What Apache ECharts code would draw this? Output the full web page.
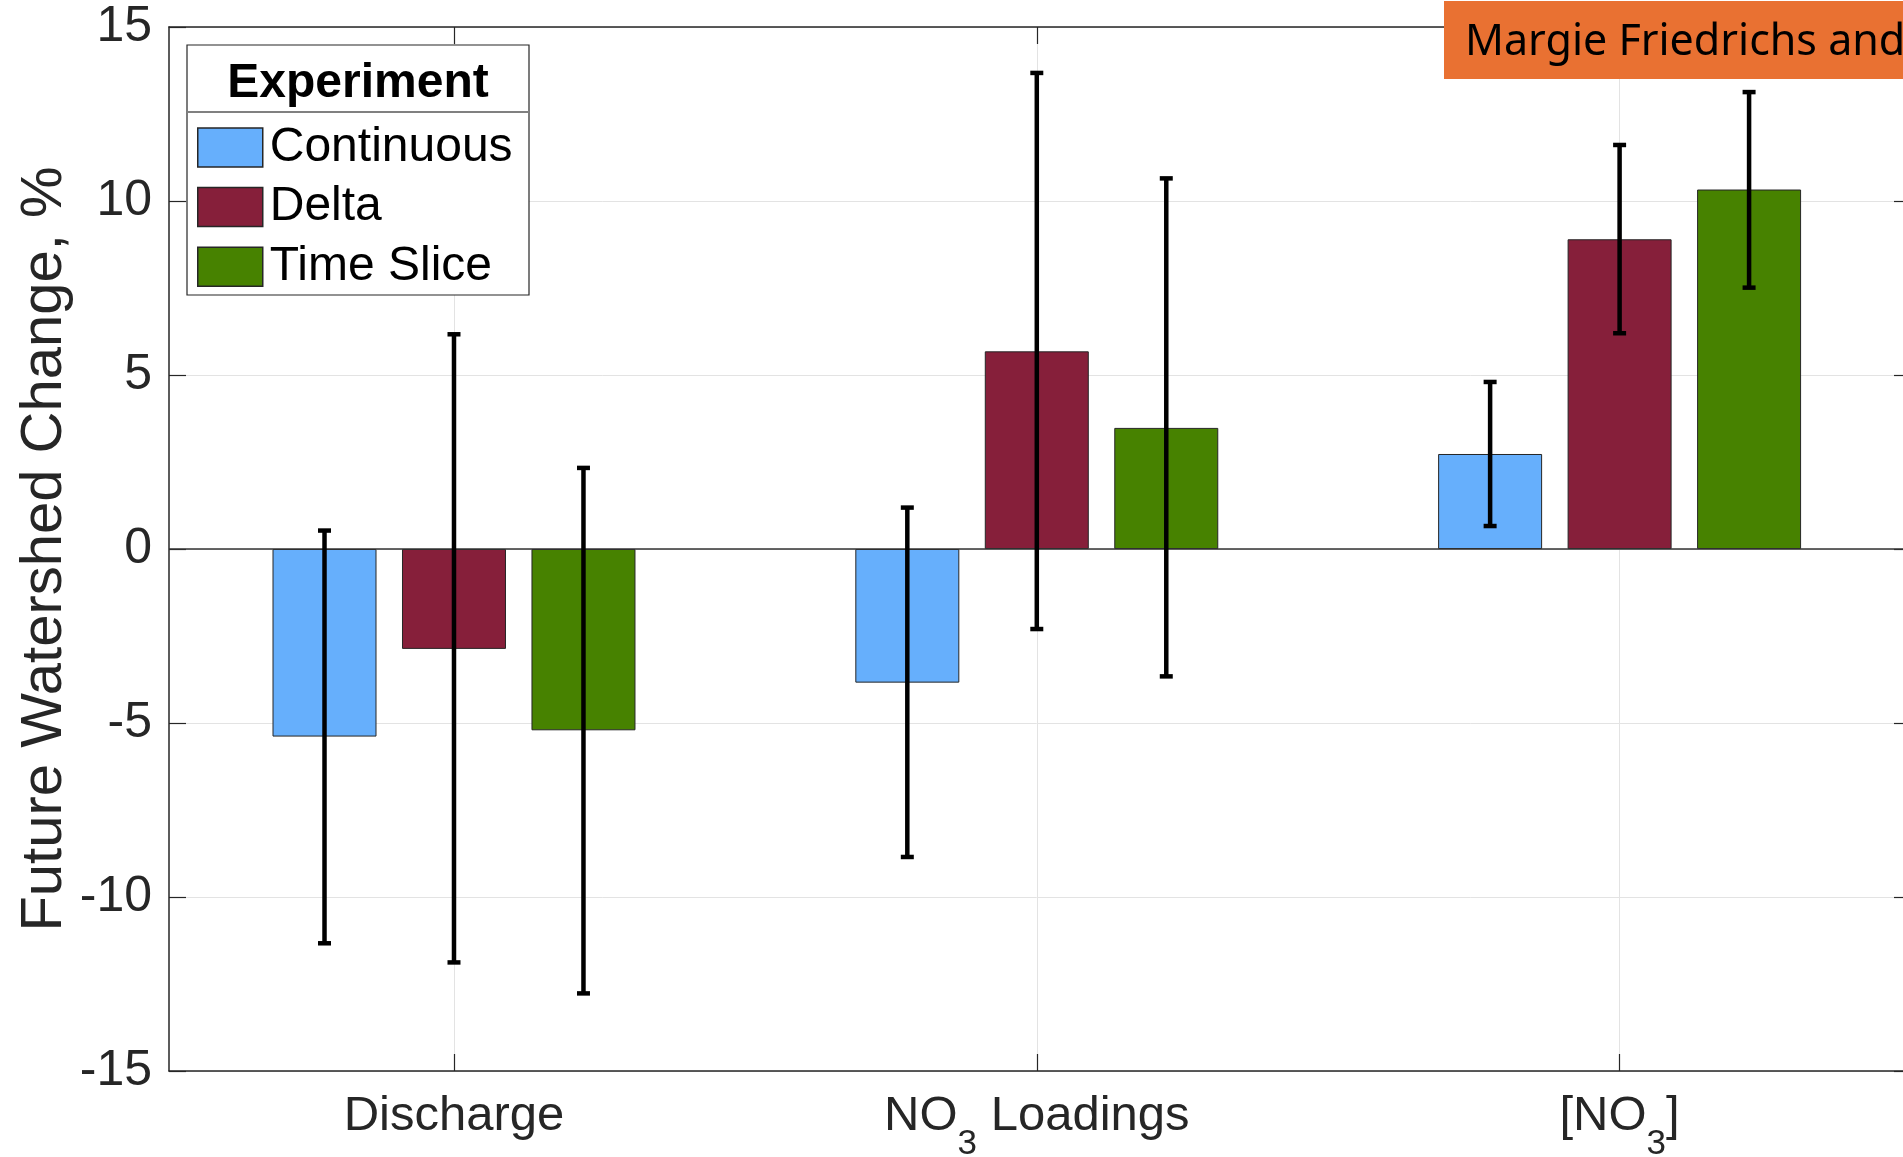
<!DOCTYPE html>
<html>
<head>
<meta charset="utf-8">
<script src="https://cdn.jsdelivr.net/npm/echarts@6/dist/echarts.min.js"></script>
<style>
  html, body { margin: 0; padding: 0; background: #ffffff; }
  #chart { width: 1903px; height: 1157px; }
</style>
</head>
<body>
<div id="chart"></div>
<script>
// Watershed quantities, one group of bars per quantity
const categoryPositions = [1, 2, 3];
const categoryLabels = ['Discharge', 'NO{sub|3} Loadings', '[NO{sub|3}]'];

// Experiments (bar series)
const seriesNames = ['Continuous', 'Delta', 'Time Slice'];

// Mean change, %, with lower / upper ends of the spread
const continuousMean = [-5.39, -3.84, 2.73];
const continuousLow  = [-11.33, -8.85, 0.66];
const continuousHigh = [0.53, 1.19, 4.80];

const deltaMean = [-2.87, 5.68, 8.90];
const deltaLow  = [-11.88, -2.30, 6.20];
const deltaHigh = [6.17, 13.68, 11.61];

const timeSliceMean = [-5.21, 3.48, 10.33];
const timeSliceLow  = [-12.77, -3.66, 7.51];
const timeSliceHigh = [2.33, 10.65, 13.13];

// Value axis range
const yMin = -15;
const yMax = 15;
const yStep = 5;

const yTitle = 'Future Watershed Change, %';
const legendTitle = 'Experiment';
const bannerText = 'Margie Friedrichs and';

// ---- styling ----
const FONT = "'Liberation Sans', Arial, Helvetica, sans-serif";
const AXIS_COLOR = '#262626';
const GRID_COLOR = '#e3e3e3';
const COLORS = ['#66AFFC', '#861F3A', '#478200'];
const BAR_WIDTH = 104;
const BAR_GAP = 0.245;

const means = [continuousMean, deltaMean, timeSliceMean];
const lows = [continuousLow, deltaLow, timeSliceLow];
const highs = [continuousHigh, deltaHigh, timeSliceHigh];

const chart = echarts.init(document.getElementById('chart'), null, { renderer: 'canvas' });

const labelRich = {
  n:   { fontSize: 49, fontFamily: FONT, color: AXIS_COLOR, lineHeight: 56, verticalAlign: 'top' },
  sub: { fontSize: 35, fontFamily: FONT, color: AXIS_COLOR, lineHeight: 35, padding: [35, 0, 0, 0], verticalAlign: 'top' }
};

function categoryFormatter(v) {
  const idx = categoryPositions.indexOf(v);
  if (idx < 0) return '';
  // wrap plain parts in the "n" style
  return categoryLabels[idx]
    .split(/(\{sub\|[^}]*\})/)
    .filter(s => s.length)
    .map(s => s.startsWith('{sub|') ? s : '{n|' + s + '}')
    .join('');
}

const barSeries = seriesNames.map((name, i) => {
  const s = {
    type: 'bar',
    name: name,
    xAxisIndex: 0,
    yAxisIndex: 0,
    barWidth: BAR_WIDTH,
    barGap: (BAR_GAP * 100) + '%',
    data: categoryPositions.map((p, j) => [p, means[i][j]]),
    itemStyle: { color: COLORS[i], borderColor: AXIS_COLOR, borderWidth: 1 },
    emphasis: { disabled: true },
    z: 2
  };
  if (i === 0) {
    // bar baseline at zero
    s.markLine = {
      silent: true,
      symbol: ['none', 'none'],
      label: { show: false },
      lineStyle: { color: '#333333', width: 1.5, type: 'solid' },
      data: [{ yAxis: 0 }],
      z: 3
    };
  }
  return s;
});

const errorSeries = seriesNames.map((name, i) => ({
  type: 'custom',
  name: name + ' range',
  xAxisIndex: 0,
  yAxisIndex: 0,
  z: 6,
  silent: true,
  data: categoryPositions.map((p, j) => [p, lows[i][j], highs[i][j]]),
  encode: { x: 0, y: [1, 2] },
  renderItem: function (params, api) {
    const offset = (i - 1) * BAR_WIDTH * (1 + BAR_GAP);
    const top = api.coord([api.value(0), api.value(2)]);
    const bot = api.coord([api.value(0), api.value(1)]);
    const x = top[0] + offset;
    const cap = 6.5;
    const style = { stroke: '#000000', lineWidth: 4.5 };
    return {
      type: 'group',
      children: [
        { type: 'line', shape: { x1: x, y1: top[1], x2: x, y2: bot[1] }, style: style },
        { type: 'line', shape: { x1: x - cap, y1: top[1], x2: x + cap, y2: top[1] }, style: style },
        { type: 'line', shape: { x1: x - cap, y1: bot[1], x2: x + cap, y2: bot[1] }, style: style }
      ]
    };
  }
}));

const xCommon = {
  type: 'value',
  min: 0.511,
  max: 3.5,
  axisLine: { show: true, onZero: false, lineStyle: { color: AXIS_COLOR, width: 1.5 } },
  axisTick: { show: true, inside: true, length: 17, customValues: categoryPositions, lineStyle: { color: AXIS_COLOR, width: 1.2 } }
};

const yCommon = {
  type: 'value',
  min: yMin,
  max: yMax,
  interval: yStep,
  axisLine: { show: true, onZero: false, lineStyle: { color: AXIS_COLOR, width: 1.5 } },
  axisTick: { show: true, inside: true, length: 17, lineStyle: { color: AXIS_COLOR, width: 1.2 } }
};

const option = {
  backgroundColor: '#ffffff',
  animation: false,
  grid: { left: 169, top: 27, width: 1742, height: 1044, containLabel: false, outerBoundsMode: 'none' },
  xAxis: [
    Object.assign({}, xCommon, {
      position: 'bottom',
      axisLabel: {
        show: true,
        customValues: categoryPositions,
        formatter: categoryFormatter,
        margin: 21,
        verticalAlign: 'top',
        rich: labelRich
      },
      splitLine: { show: true, lineStyle: { color: GRID_COLOR, width: 1 } }
    }),
    Object.assign({}, xCommon, {
      position: 'top',
      axisLabel: { show: false },
      splitLine: { show: false }
    })
  ],
  yAxis: [
    Object.assign({}, yCommon, {
      position: 'left',
      axisLabel: { show: true, fontSize: 50, fontFamily: FONT, color: AXIS_COLOR, margin: 17 },
      splitLine: { show: true, lineStyle: { color: GRID_COLOR, width: 1 } },
      name: yTitle,
      nameLocation: 'middle',
      nameGap: 95,
      nameMoveOverlap: false,
      nameTextStyle: { fontSize: 58, fontFamily: FONT, color: AXIS_COLOR }
    }),
    Object.assign({}, yCommon, {
      position: 'right',
      axisLabel: { show: false },
      splitLine: { show: false }
    })
  ],
  legend: {
    data: seriesNames,
    orient: 'vertical',
    left: 197,
    top: 123.5,
    padding: 0,
    icon: 'rect',
    itemWidth: 65,
    itemHeight: 39,
    itemGap: 11.6,
    selectedMode: false,
    itemStyle: { borderColor: AXIS_COLOR, borderWidth: 1.5 },
    textStyle: { fontSize: 48, fontFamily: FONT, color: '#000000', padding: [0, 0, 0, 2] },
    z: 6
  },
  graphic: [
    // legend frame with its heading
    {
      type: 'rect', z: 4,
      shape: { x: 187, y: 45, width: 342, height: 250 },
      style: { fill: '#ffffff', stroke: AXIS_COLOR, lineWidth: 1.2 }
    },
    {
      type: 'line', z: 5,
      shape: { x1: 187, y1: 112, x2: 529, y2: 112 },
      style: { stroke: '#808080', lineWidth: 2 }
    },
    {
      type: 'text', z: 5,
      x: 358, y: 84,
      style: {
        text: legendTitle, fill: '#000000', fontSize: 48, fontWeight: 'bold', fontFamily: FONT,
        align: 'center', verticalAlign: 'middle'
      }
    },
    // author banner
    {
      type: 'rect', z: 20,
      shape: { x: 1444, y: 1, width: 470, height: 78 },
      style: { fill: '#E97132' }
    },
    {
      type: 'text', z: 21,
      x: 1465, y: 43,
      style: {
        text: bannerText, fill: '#000000', fontSize: 43, fontFamily: "'Noto Sans', 'Open Sans', sans-serif",
        align: 'left', verticalAlign: 'middle'
      }
    }
  ],
  series: barSeries.concat(errorSeries)
};

chart.setOption(option);
</script>
</body>
</html>
